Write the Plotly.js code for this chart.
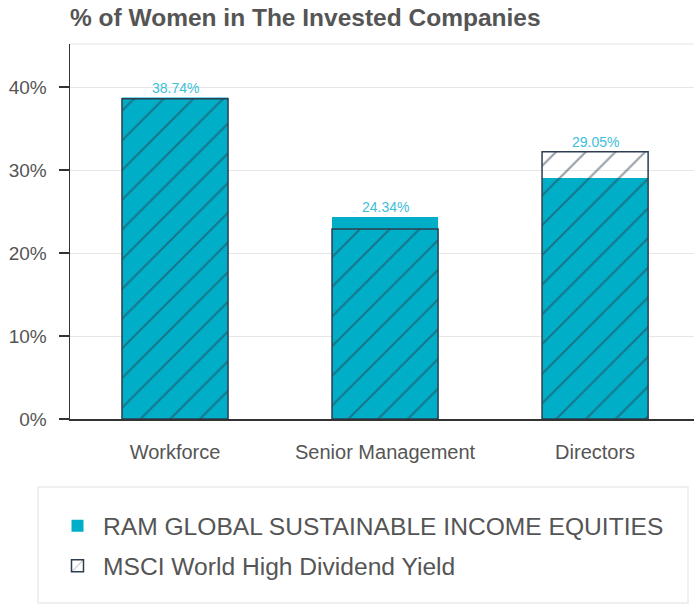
<!DOCTYPE html>
<html>
<head>
<meta charset="utf-8">
<script src="https://cdn.plot.ly/plotly-3.0.1.min.js"></script>
<style>html,body{margin:0;padding:0;background:#fff;}#chart{width:694px;height:605px;}</style>
</head>
<body>
<div id="chart"></div>
<script>
const categories = ["Workforce", "Senior Management", "Directors"];
const ramValues = [38.74, 24.34, 29.05];
const msciValues = [38.6, 22.9, 32.2];
const ramName = "RAM GLOBAL SUSTAINABLE INCOME EQUITIES";
const msciName = "MSCI World High Dividend Yield";
const yTickVals = [0, 10, 20, 30, 40];
const yTickText = ["0%", "10%", "20%", "30%", "40%"];

const teal = "#00AFC7";
const dark = "#2C3E50";
const font = "Liberation Sans, Arial, sans-serif";

const traces = [
  {
    type: "bar", x: categories, y: ramValues, name: ramName,
    marker: {color: teal, line: {width: 0}},
    width: 0.505, legendgroup: "a", hoverinfo: "skip"
  },
  {
    type: "bar", x: categories, y: msciValues, name: msciName,
    marker: {color: "rgba(0,0,0,0)", line: {color: dark, width: 1.5},
      pattern: {shape: "/", fgcolor: dark, bgcolor: "rgba(0,0,0,0)", size: 21, solidity: 0.1, fillmode: "overlay"}},
    width: 0.505, legendgroup: "b", hoverinfo: "skip"
  }
];

const annotations = categories.map((c, i) => ({
  x: c, y: Math.max(ramValues[i], msciValues[i]), xref: "x", yref: "y",
  text: ramValues[i].toFixed(2) + "%", showarrow: false, yanchor: "bottom", yshift: 0,
  font: {family: font, size: 14, color: "#3DC0D8"}
}));

const layout = {
  width: 694, height: 605,
  margin: {l: 70, r: 0, t: 44, b: 186},
  paper_bgcolor: "#fff", plot_bgcolor: "#fff",
  title: {text: "<b>% of Women in The Invested Companies</b>", x: 0, xref: "paper", xanchor: "left", y: 1, yref: "container", yanchor: "top", pad: {t: 9},
    font: {family: font, size: 24.5, color: "#555"}},
  barmode: "overlay",
  showlegend: true,
  legend: {x: (52 - 70) / 624, y: -0.225, xanchor: "left", yanchor: "top", orientation: "v",
    font: {family: font, size: 24.6, color: "#555"}, bgcolor: "rgba(0,0,0,0)", borderwidth: 0,
    itemwidth: 41, traceorder: "grouped", tracegroupgap: 5},
  xaxis: {range: [-0.5, 2.471], showline: true, linecolor: "#333", linewidth: 1.5, ticks: "",
    ticklabelstandoff: 14,
    tickfont: {family: font, size: 20, color: "#555"}, fixedrange: true, showgrid: false},
  yaxis: {range: [0, 45.2], tickvals: yTickVals, ticktext: yTickText, showline: true, linecolor: "#333", linewidth: 1.5,
    ticks: "outside", ticklen: 10, tickcolor: "#333", tickwidth: 1.5, showgrid: true, gridcolor: "#e6e6e6", gridwidth: 1,
    ticklabelstandoff: 8,
    zeroline: false, tickfont: {family: font, size: 19, color: "#555"}, fixedrange: true},
  shapes: [
    {type: "line", xref: "paper", yref: "paper", x0: 0, x1: 1, y0: 1, y1: 1, line: {color: "#e6e6e6", width: 1}},
    {type: "rect", xref: "paper", yref: "paper", x0: (38 - 70) / 624, x1: (688 - 70) / 624, y0: (419 - 603) / 375, y1: (419 - 487) / 375,
      line: {color: "#ebebeb", width: 1.5}, fillcolor: "rgba(0,0,0,0)"}
  ],
  annotations: annotations
};

Plotly.newPlot("chart", traces, layout, {displayModeBar: false, staticPlot: true});
</script>
</body>
</html>
